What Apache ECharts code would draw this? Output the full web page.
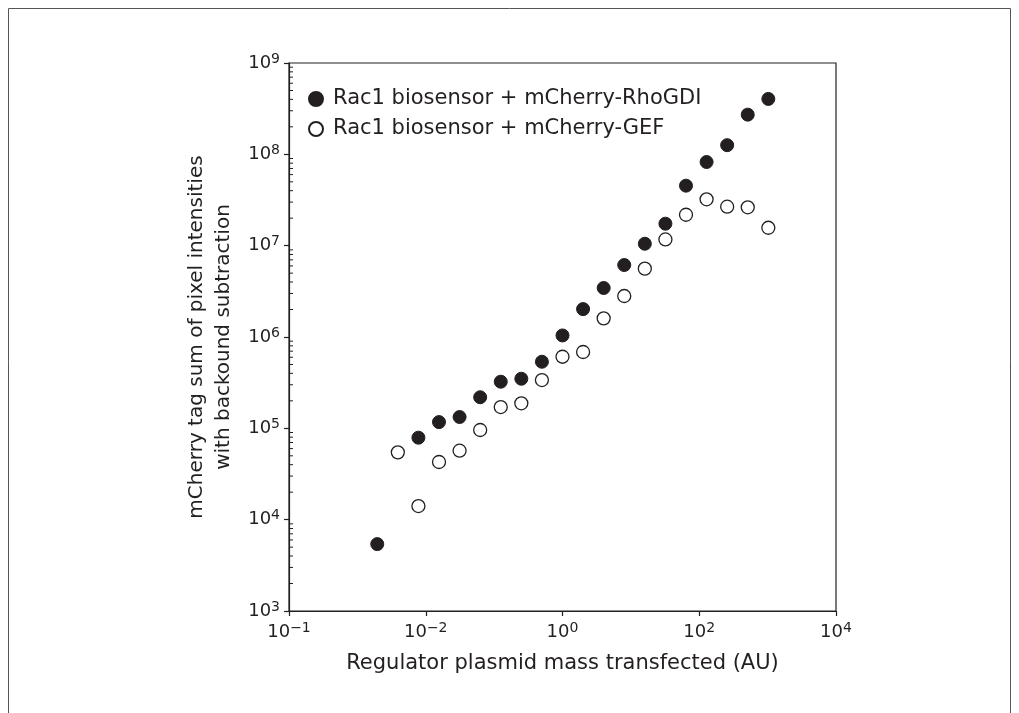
<!DOCTYPE html>
<html>
<head>
<meta charset="utf-8">
<script src="https://cdn.jsdelivr.net/npm/echarts@6/dist/echarts.min.js"></script>
<style>
html,body{margin:0;padding:0;background:#fff;}
#chart{width:1019px;height:713px;}
</style>
</head>
<body>
<div id="chart"></div>
<script>
// ---- data ----
const rhoName = 'Rac1 biosensor + mCherry-RhoGDI';
const gefName = 'Rac1 biosensor + mCherry-GEF';

const rhoX = [0.001953, 0.0078125, 0.015625, 0.03125, 0.0625, 0.125, 0.25, 0.5, 1, 2, 4, 8, 16, 32, 64, 128, 256, 512, 1024];
const rhoY = [5.4e3, 7.9e4, 1.17e5, 1.33e5, 2.19e5, 3.24e5, 3.49e5, 5.36e5, 1.04e6, 2.02e6, 3.44e6, 6.14e6, 1.05e7, 1.74e7, 4.54e7, 8.24e7, 1.26e8, 2.72e8, 4.04e8];

const gefX = [0.003906, 0.0078125, 0.015625, 0.03125, 0.0625, 0.125, 0.25, 0.5, 1, 2, 4, 8, 16, 32, 64, 128, 256, 512, 1024];
const gefY = [5.46e4, 1.41e4, 4.28e4, 5.69e4, 9.59e4, 1.71e5, 1.88e5, 3.38e5, 6.08e5, 6.85e5, 1.60e6, 2.81e6, 5.60e6, 1.17e7, 2.18e7, 3.22e7, 2.67e7, 2.63e7, 1.57e7];

// tick labels as printed: base "10" with superscript exponent
const xTickExps = ['\u22121', '\u22122', '0', '2', '4'];
const yTickExps = ['3', '4', '5', '6', '7', '8', '9'];

// minor tick positions on the y axis (2..9 within each decade)
const minorMultipliers = [2, 3, 4, 5, 6, 7, 8, 9];
const minorDecades = [1e3, 1e4, 1e5, 1e6, 1e7, 1e8];

const xTitle = 'Regulator plasmid mass transfected (AU)';
const yTitle = 'mCherry tag sum of pixel intensities\nwith backound subtraction';

// ---- build ----
const FONT = 'DejaVu Sans';
const INK = '#231f20';
const xMin = 1e-4, xMax = 1e4, yMin = 1e3, yMax = 1e9;

function pairs(xs, ys) { return xs.map((x, i) => [x, ys[i]]); }
const minorData = [];
minorDecades.forEach(d => minorMultipliers.forEach(m => minorData.push([xMin, d * m])));

const richTick = {
  b: { fontFamily: FONT, fontSize: 18, color: INK, lineHeight: 22 },
  s: { fontFamily: FONT, fontSize: 14, color: INK, lineHeight: 12, verticalAlign: 'top' }
};

const chart = echarts.init(document.getElementById('chart'), null, { renderer: 'canvas' });
chart.setOption({
  backgroundColor: '#ffffff',
  animation: false,
  graphic: [{
    type: 'rect', silent: true, z: 0,
    shape: { x: 8.5, y: 8.5, width: 1002, height: 720 },
    style: { fill: 'none', stroke: '#555', lineWidth: 1 }
  }],
  grid: {
    left: 289, right: 183, top: 63, bottom: 102,
    show: true, borderColor: INK, borderWidth: 1.2, backgroundColor: 'transparent'
  },
  legend: {
    data: [rhoName, gefName],
    orient: 'vertical', left: 308, top: 88, padding: 0,
    itemWidth: 14, itemHeight: 14, itemGap: 8,
    icon: 'circle',
    textStyle: { fontFamily: FONT, fontSize: 21, color: INK, lineHeight: 22, padding: [0, 0, 0, 5] }
  },
  xAxis: {
    type: 'log', logBase: 10, min: xMin, max: xMax, interval: 2, splitNumber: 4,
    name: xTitle, nameLocation: 'middle', nameGap: 42,
    nameTextStyle: { fontFamily: FONT, fontSize: 21, color: INK },
    axisLine: { show: true, lineStyle: { color: INK, width: 1.2 } },
    axisTick: { show: true, inside: false, length: 5, lineStyle: { color: INK, width: 1.2 } },
    minorTick: { show: false },
    splitLine: { show: false },
    axisLabel: {
      margin: 10,
      formatter: function (v, i) { return '{b|10}{s|' + xTickExps[i] + '}'; },
      rich: richTick
    }
  },
  yAxis: {
    type: 'log', logBase: 10, min: yMin, max: yMax, interval: 1, splitNumber: 6,
    name: yTitle, nameLocation: 'middle', nameGap: 52, nameRotate: 90,
    nameTextStyle: { fontFamily: FONT, fontSize: 20, color: INK, lineHeight: 27, align: 'center' },
    axisLine: { show: true, lineStyle: { color: INK, width: 1.2 } },
    axisTick: { show: true, inside: false, length: 5, lineStyle: { color: INK, width: 1.2 } },
    minorTick: { show: false },
    splitLine: { show: false },
    axisLabel: {
      margin: 9,
      formatter: function (v, i) { return '{b|10}{s|' + yTickExps[i] + '}'; },
      rich: richTick
    }
  },
  series: [
    {
      name: rhoName, type: 'scatter', data: pairs(rhoX, rhoY),
      symbol: 'circle', symbolSize: 13,
      itemStyle: { color: INK, borderColor: INK, borderWidth: 1, opacity: 1 },
      z: 3
    },
    {
      name: gefName, type: 'scatter', data: pairs(gefX, gefY),
      symbol: 'circle', symbolSize: 13,
      itemStyle: { color: '#ffffff', borderColor: INK, borderWidth: 1.3, opacity: 1 },
      z: 3
    },
    {
      name: 'minorTicks', type: 'custom', data: minorData, silent: true, clip: false,
      renderItem: function (params, api) {
        const p = api.coord([api.value(0), api.value(1)]);
        return {
          type: 'line',
          shape: { x1: p[0], y1: p[1], x2: p[0] + 4, y2: p[1] },
          style: { stroke: INK, lineWidth: 1 }
        };
      },
      z: 2
    }
  ]
});
</script>
</body>
</html>
